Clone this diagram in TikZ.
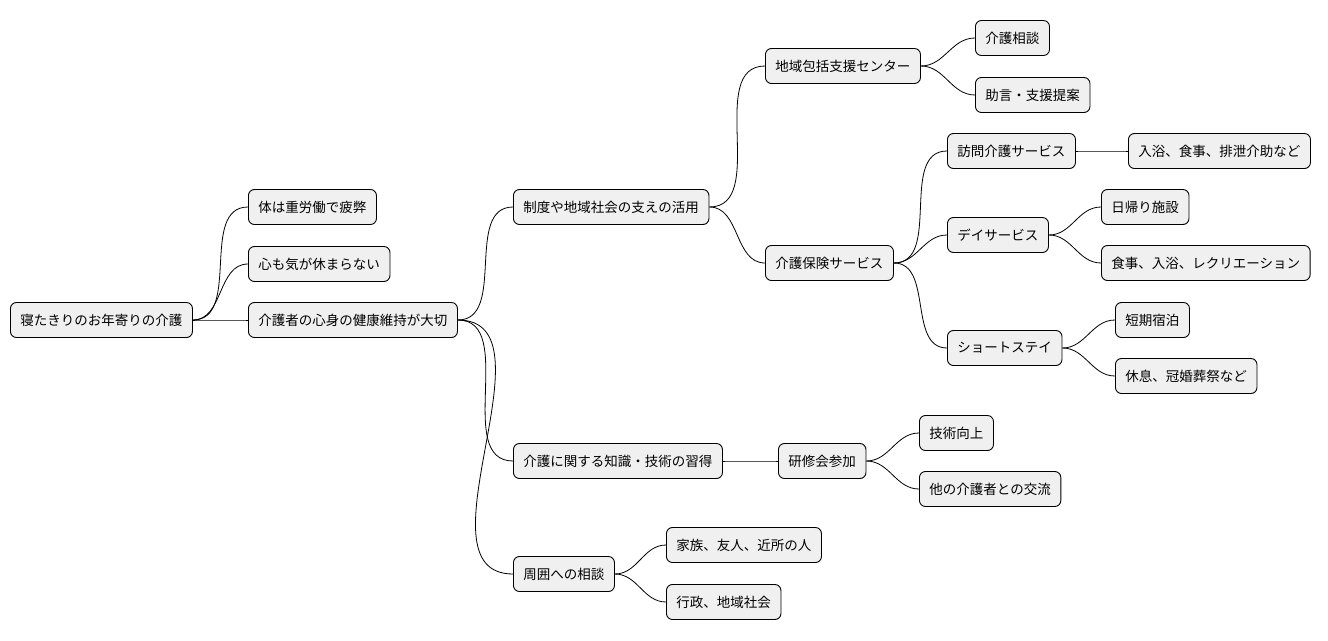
\documentclass[tikz,border=0pt]{standalone}
\usepackage{fontspec}
\setmainfont{Noto Sans CJK JP}
\usetikzlibrary{positioning}

\tikzset{
  topic/.style={draw, rounded corners=6pt, fill=black!6, line width=0.9pt,
    minimum height=35pt, inner xsep=10pt, anchor=west,
    font=\fontsize{13.5}{16}\selectfont},
  link/.style={draw, line width=0.8pt, out=0, in=180}
}

\begin{document}
\begin{tikzpicture}[x=1pt, y=-1pt]
\useasboundingbox (0,0) rectangle (1328,640);

\node [topic] (root) at (10,320) {寝たきりのお年寄りの介護};
\node [topic] (body) at (248,207) {体は重労働で疲弊};
\node [topic] (mind) at (248,264) {心も気が休まらない};
\node [topic] (care) at (248,320) {介護者の心身の健康維持が大切};

\node [topic] (sys) at (513,207) {制度や地域社会の支えの活用};
\node [topic] (center) at (765,66) {地域包括支援センター};
\node [topic] (consult) at (975,38) {介護相談};
\node [topic] (advice) at (975,95) {助言・支援提案};
\node [topic] (ins) at (765,263) {介護保険サービス};
\node [topic] (visit) at (947,151) {訪問介護サービス};
\node [topic] (bath) at (1128,151) {入浴、食事、排泄介助など};
\node [topic] (day) at (947,235) {デイサービス};
\node [topic] (dayfac) at (1101,207) {日帰り施設};
\node [topic] (meal) at (1101,263) {食事、入浴、レクリエーション};
\node [topic] (short) at (947,348) {ショートステイ};
\node [topic] (stay) at (1115,320) {短期宿泊};
\node [topic] (rest) at (1115,376) {休息、冠婚葬祭など};

\node [topic] (skill) at (513,461) {介護に関する知識・技術の習得};
\node [topic] (train) at (778,461) {研修会参加};
\node [topic] (tech) at (919,433) {技術向上};
\node [topic] (meet) at (919,489) {他の介護者との交流};

\node [topic] (around) at (513,574) {周囲への相談};
\node [topic] (family) at (666,545) {家族、友人、近所の人};
\node [topic] (admin) at (666,602) {行政、地域社会};

\foreach \a/\b in {root/body, root/mind, root/care,
  care/sys, care/skill, care/around,
  sys/center, sys/ins, center/consult, center/advice,
  ins/visit, ins/day, ins/short, visit/bath,
  day/dayfac, day/meal, short/stay, short/rest,
  skill/train, train/tech, train/meet,
  around/family, around/admin}
  \path [link] (\a.east) edge[out=0, in=180] (\b.west);

\end{tikzpicture}
\end{document}
